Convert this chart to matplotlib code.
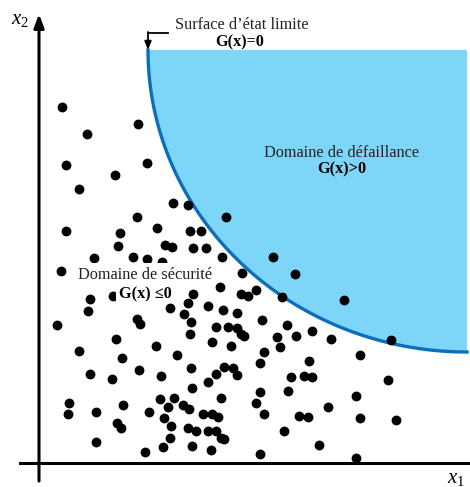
import numpy as np
import matplotlib
matplotlib.use("Agg")
import matplotlib.pyplot as plt
from matplotlib.patches import Rectangle

plt.rcParams["mathtext.fontset"] = "custom"
plt.rcParams["mathtext.rm"] = "Liberation Serif"
plt.rcParams["mathtext.it"] = "Liberation Serif:italic"
plt.rcParams["mathtext.bf"] = "Liberation Serif:bold"

# sample points (image pixel coords: x to the right, y downward)
pts_x = [62, 87, 138, 66, 147, 115, 79, 173, 188, 137, 226,
         66, 120, 157, 190, 201, 118, 165, 172, 193, 206, 222, 273, 94, 133,
         147, 162, 61, 242, 295, 113, 90, 88, 220, 193, 241, 248, 256, 282,
         344, 188, 208, 170, 184, 223, 237, 262, 137, 140, 57, 191, 216, 228,
         237, 241, 244, 287, 312, 277, 296, 331, 391,
         116, 79, 156, 122, 177, 190, 212, 231, 280, 264, 360, 309, 260, 90,
         112, 139, 161, 191, 216, 224, 233, 237, 291, 304, 312, 388, 208, 192,
         221, 260, 288, 256, 356, 69, 68, 96, 123, 117, 121, 149, 160, 168,
         174, 183, 189, 164, 171, 203, 212, 218, 188, 196, 208, 216, 221, 224,
         170, 264, 299, 308, 328, 360, 396, 284, 163, 192, 211, 145, 96, 319,
         260, 356]
pts_y = [107, 134, 124, 165, 163, 175, 189, 203, 205, 217, 217,
         231, 233, 228, 231, 231, 246, 245, 247, 248, 248, 257, 257, 258, 257,
         259, 262, 271, 273, 274, 296, 299, 311, 287, 294, 294, 296, 290, 297,
         300, 303, 306, 308, 314, 310, 313, 320, 319, 324, 325, 322, 327, 327,
         328, 334, 336, 325, 331, 337, 336, 339, 340,
         339, 351, 346, 358, 355, 334, 342, 346, 347, 352, 355, 361, 363, 374,
         379, 370, 376, 368, 374, 367, 368, 375, 377, 376, 377, 380, 382, 388,
         398, 392, 391, 403, 396, 403, 414, 412, 405, 423, 428, 412, 399, 407,
         398, 405, 409, 418, 426, 414, 414, 417, 428, 431, 431, 431, 438, 439,
         438, 414, 416, 417, 407, 418, 420, 431, 447, 446, 450, 452, 442, 445,
         454, 458]

# limit state G(x)=0 : quarter ellipse
cx, cy = 467, 50
rx, ry = 319, 302

fill_col = "#7dd6f7"
line_col = "#0a6ebd"
serif = ["Liberation Serif", "DejaVu Serif"]
fs = 11.7

fig = plt.figure(figsize=(4.70, 4.87), dpi=100)
ax = fig.add_axes([0, 0, 1, 1])
ax.set_xlim(0, 470)
ax.set_ylim(487, 0)
ax.axis("off")

t = np.linspace(0, np.pi / 2, 200)
ex = cx - rx * np.cos(t)
ey = cy + ry * np.sin(t)
ax.fill(np.r_[ex, cx], np.r_[ey, cy], color=fill_col, lw=0, zorder=1)
ax.plot(ex, ey, color=line_col, lw=2.4, zorder=2)

ax.scatter(pts_x, pts_y, s=50, color="black", lw=0, zorder=3)

# axes
ax.plot([20, 470], [463, 463], color="black", lw=2.2, zorder=4)
ax.annotate("", xy=(39, 14), xytext=(39, 481),
            arrowprops=dict(arrowstyle="-|>,head_length=0.8,head_width=0.3",
                            color="black", lw=2.2, shrinkA=0, shrinkB=0), zorder=4)
ax.text(11, 19, "$x_2$", fontsize=15, ha="left", va="center")
ax.text(447, 478, "$x_1$", fontsize=15, ha="left", va="center")

# limit state label with bent arrow
ax.text(242, 25, "Surface d\u2019\u00e9tat limite", fontsize=fs, family=serif,
        ha="center", va="center", color="#222222")
ax.text(240, 42, "G(x)=0", fontsize=fs, family=serif, fontweight="bold",
        ha="center", va="center")
ax.plot([168, 148], [33, 33], color="black", lw=1.3, zorder=4)
ax.annotate("", xy=(148, 50), xytext=(148, 32),
            arrowprops=dict(arrowstyle="-|>,head_length=0.5,head_width=0.2",
                            color="black", lw=1.3, shrinkA=0, shrinkB=0), zorder=4)

ax.text(342, 153, "Domaine de d\u00e9faillance", fontsize=fs, family=serif,
        ha="center", va="center", color="#222222")
ax.text(342, 169, "G(x)>0", fontsize=fs, family=serif, fontweight="bold",
        ha="center", va="center")

# white backgrounds behind the safe-domain label
ax.add_patch(Rectangle((76, 263), 138, 23, facecolor="white", edgecolor="none", zorder=5))
ax.add_patch(Rectangle((116, 284), 60, 19, facecolor="white", edgecolor="none", zorder=5))
ax.text(145, 275, "Domaine de s\u00e9curit\u00e9", fontsize=fs, family=serif,
        ha="center", va="center", color="#222222", zorder=6)
ax.text(145, 294, "G(x) \u22640", fontsize=fs, family=serif, fontweight="bold",
        ha="center", va="center", zorder=6)

fig.savefig("out.png", dpi=100)
